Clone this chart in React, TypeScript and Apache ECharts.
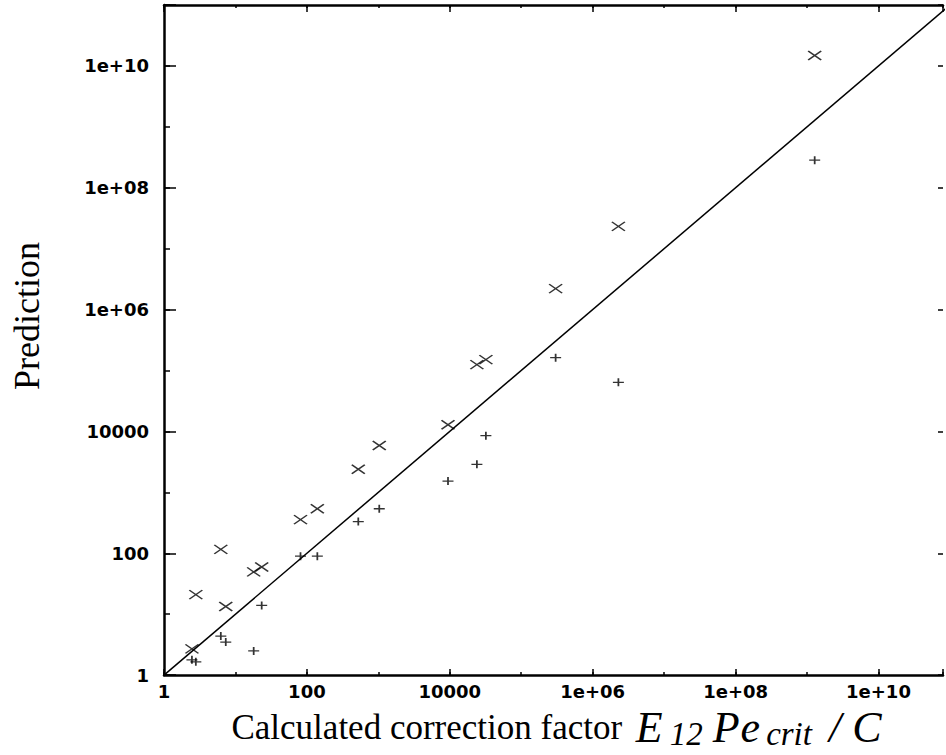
import React, { useEffect, useRef } from "react";
import * as echarts from "echarts";

// Calculated correction factor (x) for each case
const xValues = [2.46, 2.79, 6.24, 7.32, 18.0, 23.3, 81.4, 140, 524, 1030, 9440, 23950, 32000, 303000, 2.29e6, 1.28e9];
// Prediction, first method (× markers)
const predCross = [2.69, 20.9, 116, 13.4, 49.4, 59.5, 357, 538, 2395, 5870, 12840, 125000, 150700, 2.21e6, 2.32e7, 1.48e10];
// Prediction, second method (+ markers)
const predPlus = [1.78, 1.65, 4.37, 3.49, 2.49, 13.9, 89.7, 89.7, 331, 538, 1531, 2886, 8515, 162500, 63900, 2.83e8];
// y = x reference line end points
const diagonal = [1, 1e11];
// axis extents (the x range is cut at the right edge of the figure)
const xRange = [1, 8.0e10];
const yRange = [1, 1e11];
// tick labels
const tickValues = [1, 100, 1e4, 1e6, 1e8, 1e10];
const tickLabels = ["1", "100", "10000", "1e+06", "1e+08", "1e+10"];

const fmt = (v: number) => {
  const lv = Math.log10(v);
  for (let i = 0; i < tickValues.length; i++) {
    if (Math.abs(lv - Math.log10(tickValues[i])) < 1e-6) return tickLabels[i];
  }
  return "";
};

const labelStyle = {
  fontFamily: "DejaVu Sans",
  fontWeight: "bold" as const,
  fontSize: 18,
  color: "#000",
};

function xAx(extra: any) {
  return { type: "log", logBase: 10, min: xRange[0], max: xRange[1], splitLine: { show: false }, minorTick: { show: false }, ...extra };
}
function yAx(extra: any) {
  return { type: "log", logBase: 10, min: yRange[0], max: yRange[1], splitLine: { show: false }, minorTick: { show: false }, ...extra };
}

export default function App() {
  const ref = useRef<HTMLDivElement>(null);
  useEffect(() => {
    if (!ref.current) return;
    const chart = echarts.init(ref.current, null, { renderer: "svg" });
    const lineOn = { show: true, onZero: false, lineStyle: { color: "#000", width: 2.5 } };
    const lineOff = { show: false, onZero: false };
    const serif = "Liberation Serif";
    const it = (padR: number) => ({
      fontFamily: serif, fontStyle: "italic", fontSize: 44, color: "#000", lineHeight: 46, verticalAlign: "middle", padding: [0, padR, 0, 0],
    });
    const sub = (padR: number) => ({
      fontFamily: serif, fontStyle: "italic", fontSize: 33, color: "#000", lineHeight: 46, verticalAlign: "bottom", padding: [0, padR, 0, 0],
    });
    chart.setOption({
      animation: false,
      backgroundColor: "#fff",
      grid: { left: 164, right: 0, top: 5, bottom: 71.5, containLabel: false },
      xAxis: [
        xAx({
          position: "bottom",
          interval: 2,
          axisLine: lineOn,
          axisTick: { show: true, inside: true, length: 6, lineStyle: { color: "#000", width: 1.5 } },
          axisLabel: { show: true, margin: 7, formatter: fmt, ...labelStyle },
          name: "{n|Calculated correction factor }{e|E}{a|12}{p|P}{q|e}{b|crit}{sl|/}{c|C}",
          nameLocation: "middle",
          nameGap: 14,
          nameTextStyle: {
            padding: [0, 0, 0, 6],
            rich: {
              n: { fontFamily: serif, fontSize: 35, color: "#000", lineHeight: 46, verticalAlign: "middle", padding: [0, 5, 0, 0] },
              e: it(7),
              a: sub(10),
              p: it(1),
              q: it(6),
              b: sub(17),
              sl: it(11),
              c: it(0),
            },
          },
        }),
        xAx({ position: "bottom", interval: 1, axisLine: lineOff, axisTick: { show: true, inside: true, length: 3, lineStyle: { color: "#000", width: 1.5 } }, axisLabel: { show: false } }),
        xAx({ position: "top", interval: 2, axisLine: lineOn, axisTick: { show: true, inside: true, length: 7, lineStyle: { color: "#000", width: 1.5 } }, axisLabel: { show: false } }),
        xAx({ position: "top", interval: 1, axisLine: lineOff, axisTick: { show: true, inside: true, length: 3, lineStyle: { color: "#000", width: 1.5 } }, axisLabel: { show: false } }),
      ],
      yAxis: [
        yAx({
          position: "left",
          interval: 2,
          axisLine: lineOn,
          axisTick: { show: true, inside: true, length: 12, lineStyle: { color: "#000", width: 1.5 } },
          axisLabel: { show: true, margin: 15, formatter: fmt, ...labelStyle },
          name: "Prediction",
          nameLocation: "middle",
          nameGap: 119,
          nameTextStyle: { fontFamily: serif, fontSize: 36, color: "#000", padding: [0, 0, 0, 48] },
        }),
        yAx({ position: "left", interval: 1, axisLine: lineOff, axisTick: { show: true, inside: true, length: 6, lineStyle: { color: "#000", width: 1.5 } }, axisLabel: { show: false } }),
        yAx({ position: "right", interval: 2, axisLine: lineOff, axisTick: { show: true, inside: true, length: 5, lineStyle: { color: "#000", width: 1.5 } }, axisLabel: { show: false } }),
      ],
      series: [
        {
          type: "line",
          data: [[diagonal[0], diagonal[0]], [diagonal[1], diagonal[1]]],
          showSymbol: false,
          symbol: "none",
          clip: true,
          lineStyle: { color: "#000", width: 1.5 },
          z: 2,
        },
        {
          type: "scatter",
          data: xValues.map((x, i) => [x, predCross[i]]),
          symbol: "path://M0,0L12,8M12,0L0,8",
          symbolSize: [13, 9],
          itemStyle: { color: "rgba(0,0,0,0)", borderColor: "#000", borderWidth: 1.5 },
          z: 3,
        },
        {
          type: "scatter",
          data: xValues.map((x, i) => [x, predPlus[i]]),
          symbol: "path://M0,4L12,4M6,0L6,8",
          symbolSize: [11, 8],
          itemStyle: { color: "rgba(0,0,0,0)", borderColor: "#000", borderWidth: 1.5 },
          z: 3,
        },
      ],
    });
    return () => chart.dispose();
  }, []);
  return <div ref={ref} style={{ position: "fixed", left: 0, top: 0, width: 946, height: 755, background: "#fff" }} />;
}
